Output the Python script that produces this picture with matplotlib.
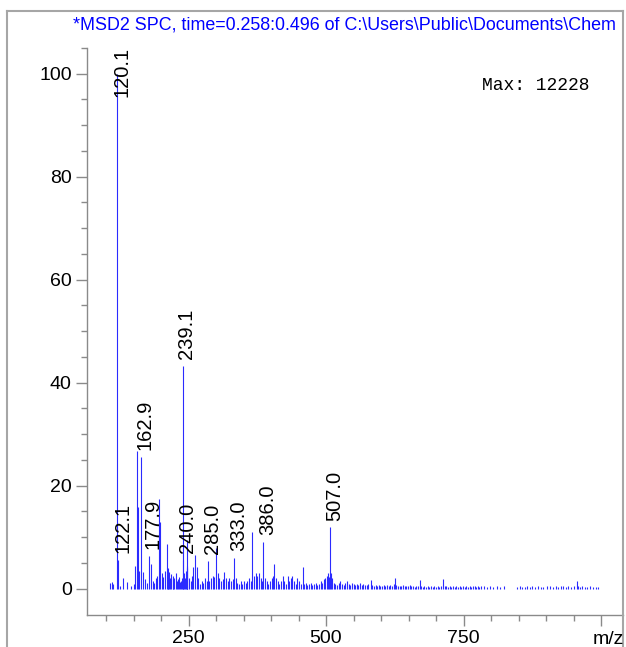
import matplotlib
matplotlib.use("Agg")
import matplotlib.pyplot as plt
from matplotlib.lines import Line2D

# Spectrum: m/z positions and relative abundance (%)
mz = [
    107.0, 110.0, 113.0, 120.1, 122.1, 126.0, 131.0, 137.6, 145.0, 150.0,
    152.7, 155.9, 158.8, 160.5, 162.9, 166.7, 170.0, 174.0, 177.9, 181.8,
    185.0, 188.0, 191.0, 193.5, 195.8, 198.0, 201.0, 204.0, 207.0, 210.0,
    212.0, 213.5, 215.0, 217.0, 218.5, 221.0, 222.5, 224.0, 227.0, 228.5,
    230.0, 233.0, 234.5, 236.0, 238.0, 239.1, 240.0, 242.0, 244.0, 245.5,
    246.5, 247.5, 248.0, 251.0, 254.0, 256.0, 258.8, 262.0, 265.0, 268.0,
    271.0, 274.0, 277.0, 280.0, 283.0, 285.0, 288.0, 291.0, 294.0, 297.0,
    300.5, 303.0, 306.0, 309.0, 312.0, 315.0, 318.0, 321.0, 324.0, 327.0,
    330.0, 333.0, 336.0, 339.0, 342.0, 345.0, 348.0, 351.0, 354.0, 357.0,
    360.0, 363.0, 366.0, 369.0, 372.0, 375.0, 378.0, 381.0, 383.0, 386.0,
    389.0, 392.0, 395.0, 398.0, 401.0, 403.0, 406.0, 409.0, 412.0, 415.0,
    418.0, 421.0, 424.0, 427.0, 430.0, 433.0, 436.0, 439.0, 442.0, 445.0,
    448.0, 451.0, 454.0, 457.6, 460.0, 463.0, 466.0, 469.0, 472.0, 475.0,
    478.0, 481.0, 484.0, 487.0, 490.0, 493.0, 496.0, 499.0, 502.0, 504.0,
    505.5, 507.0, 509.0, 511.0, 514.0, 517.0, 520.0, 523.0, 526.0, 529.0,
    532.0, 535.0, 538.0, 541.0, 544.0, 547.0, 550.0, 553.0, 556.0, 559.0,
    562.0, 565.0, 568.0, 571.0, 574.0, 577.0, 581.0, 584.0, 587.0, 590.0,
    593.0, 596.0, 599.0, 602.0, 605.0, 608.0, 611.0, 614.0, 617.0, 620.0,
    623.0, 625.5, 628.0, 631.0, 634.0, 637.0, 640.0, 643.0, 646.0, 649.0,
    652.0, 655.0, 658.0, 661.0, 664.0, 667.0, 670.0, 673.0, 676.0, 679.0,
    682.0, 685.0, 688.0, 691.0, 694.0, 697.0, 700.0, 703.0, 706.0, 709.0,
    713.0, 716.0, 719.0, 722.0, 725.0, 728.0, 731.0, 734.0, 737.0, 740.0,
    743.0, 746.0, 749.0, 752.0, 755.0, 758.0, 761.0, 764.0, 767.0, 770.0,
    773.0, 776.0, 779.0, 782.0, 787.0, 793.0, 798.0, 803.0, 810.0, 816.0,
    823.0, 848.0, 852.0, 856.0, 861.0, 865.0, 870.0, 874.0, 880.0, 885.0,
    890.0, 895.0, 902.0, 908.0, 913.0, 918.0, 922.0, 927.0, 931.0, 936.0,
    940.0, 945.0, 950.0, 956.0, 959.0, 962.0, 966.0, 970.0, 975.0, 980.0,
    985.0, 990.0, 995.0,
]
abundance = [
    1.1, 1.3, 1.0, 100.0, 5.5, 0.6, 2.0, 1.3, 0.5, 1.0,
    4.5, 26.8, 15.8, 3.5, 25.5, 3.3, 1.8, 1.2, 6.4, 4.9,
    1.5, 1.2, 2.0, 2.5, 17.5, 12.9, 3.0, 2.2, 3.5, 8.6,
    2.5, 4.0, 3.2, 2.0, 2.8, 2.5, 1.8, 2.0, 3.0, 1.5,
    1.8, 2.2, 1.4, 1.5, 2.0, 43.3, 5.5, 3.0, 2.0, 3.5,
    9.4, 4.5, 4.0, 2.0, 1.5, 2.5, 4.2, 6.5, 4.2, 2.0,
    1.0, 1.5, 1.2, 2.0, 1.5, 5.3, 1.5, 2.0, 2.5, 2.2,
    8.0, 3.0, 2.0, 1.5, 1.8, 3.3, 2.0, 1.5, 2.0, 1.5,
    1.8, 6.0, 2.0, 1.2, 1.0, 1.5, 1.0, 1.5, 1.2, 1.5,
    2.0, 1.5, 11.1, 2.5, 3.0, 2.5, 3.0, 2.0, 1.5, 9.1,
    2.0, 1.5, 1.0, 1.5, 2.0, 2.5, 4.9, 2.0, 1.5, 1.0,
    1.5, 2.5, 1.5, 1.0, 2.5, 1.5, 2.0, 2.5, 1.5, 1.0,
    2.0, 1.5, 1.0, 4.2, 1.0, 1.2, 0.8, 1.0, 1.2, 0.8,
    1.0, 1.2, 0.8, 1.0, 1.5, 1.2, 1.8, 2.0, 2.5, 3.0,
    2.2, 11.9, 3.0, 2.0, 1.2, 1.0, 0.8, 1.2, 1.5, 1.0,
    0.8, 1.2, 1.5, 1.0, 0.8, 1.2, 1.0, 0.8, 1.0, 0.8,
    1.2, 0.8, 1.0, 0.7, 0.8, 1.0, 1.6, 0.8, 0.6, 0.8,
    0.6, 0.8, 0.5, 0.6, 0.8, 0.5, 0.7, 0.6, 0.8, 0.5,
    0.9, 2.1, 0.8, 0.5, 0.6, 0.5, 0.7, 0.5, 0.6, 0.5,
    0.7, 0.5, 0.6, 0.4, 0.6, 0.5, 1.6, 0.5, 0.4, 0.5,
    0.4, 0.5, 0.4, 0.5, 0.4, 0.5, 0.4, 0.5, 0.4, 0.6,
    1.8, 0.5, 0.6, 0.4, 0.5, 0.4, 0.5, 0.4, 0.5, 0.4,
    0.5, 0.4, 0.5, 0.4, 0.6, 0.4, 0.5, 0.4, 0.5, 0.6,
    0.4, 0.5, 0.4, 0.6, 0.5, 0.4, 0.5, 0.4, 0.5, 0.4,
    0.5, 0.4, 0.5, 0.4, 0.4, 0.5, 0.4, 0.5, 0.4, 0.5,
    0.4, 0.4, 0.5, 0.6, 0.4, 0.5, 0.4, 0.5, 0.6, 0.4,
    0.5, 0.4, 0.5, 1.5, 0.6, 0.4, 0.5, 0.4, 0.4, 0.5,
    0.4, 0.4, 0.4,
]

# Peaks that carry an m/z annotation
labelled = [120.1, 122.1, 162.9, 177.9, 239.1, 240.0, 285.0, 333.0, 386.0, 507.0]

title = r"*MSD2 SPC, time=0.258:0.496 of C:\Users\Public\Documents\Chem"
max_text = "Max: 12228"

x_major = [250, 500, 750, 1000]
x_major_labels = ["250", "500", "750", ""]
x_minor = list(range(100, 1001, 50))
y_major = [0, 20, 40, 60, 80, 100]
y_minor = list(range(5, 106, 5))

W, H = 626, 647
fig = plt.figure(figsize=(W / 100, H / 100), dpi=100)
fig.patch.set_facecolor("white")

ax = fig.add_axes([87 / W, 1 - 615 / H, 536 / W, (615 - 48) / H])
ax.set_facecolor("none")
ax.set_xlim(65.45, 1040)
ax.set_ylim(-5.1, 104.7)

ax.vlines(mz, 0, abundance, colors="#2b2bff", linewidth=0.8)

for m in labelled:
    h = abundance[mz.index(m)]
    if h > 90:
        ax.annotate(f"{m:.1f}", xy=(m, 104.7), xytext=(3.2, 2.0),
                    textcoords="offset points", rotation=90,
                    ha="center", va="top", fontsize=14.5,
                    family="Liberation Sans")
    else:
        ax.annotate(f"{m:.1f}", xy=(m, h), xytext=(3.2, 5),
                    textcoords="offset points", rotation=90,
                    ha="center", va="bottom", fontsize=14.5,
                    family="Liberation Sans")

spine_color = "#8a8a8a"
for side in ("top", "right"):
    ax.spines[side].set_visible(False)
for side in ("left", "bottom"):
    ax.spines[side].set_color(spine_color)
    ax.spines[side].set_linewidth(1.0)

ax.set_xticks(x_major)
ax.set_xticklabels(x_major_labels)
ax.set_xticks(x_minor, minor=True)
ax.set_yticks(y_major)
ax.set_yticks([v for v in y_minor if v not in y_major], minor=True)
ax.tick_params(which="major", length=8, width=1.0, color=spine_color,
               labelsize=14, pad=3)
ax.tick_params(which="minor", length=4, width=1.0, color=spine_color)
for lab in ax.get_xticklabels() + ax.get_yticklabels():
    lab.set_family("Liberation Sans")

fig.text(593 / W, 1 - 640 / H, "m/z", fontsize=14, family="Liberation Sans",
         ha="left", va="center")

fig.text(482 / W, 1 - 85 / H, max_text, fontsize=13, family="Liberation Mono",
         ha="left", va="center")

fig.text(73 / W, 1 - 25 / H, title, fontsize=12.9, family="Liberation Sans",
         color="#0000ff", ha="left", va="center")

# Outer frame around the plot area
frame_color = "#a6a6a6"
fx0, fx1, fy0 = 6.5 / W, 622.5 / W, 1 - 10.5 / H
fig.add_artist(Line2D([fx0, fx0], [0, fy0], color=frame_color, lw=1.5))
fig.add_artist(Line2D([fx0, fx1], [fy0, fy0], color=frame_color, lw=1.5))
fig.add_artist(Line2D([fx1, fx1], [0, fy0], color=frame_color, lw=1.5))

fig.savefig("out.png", dpi=100)
